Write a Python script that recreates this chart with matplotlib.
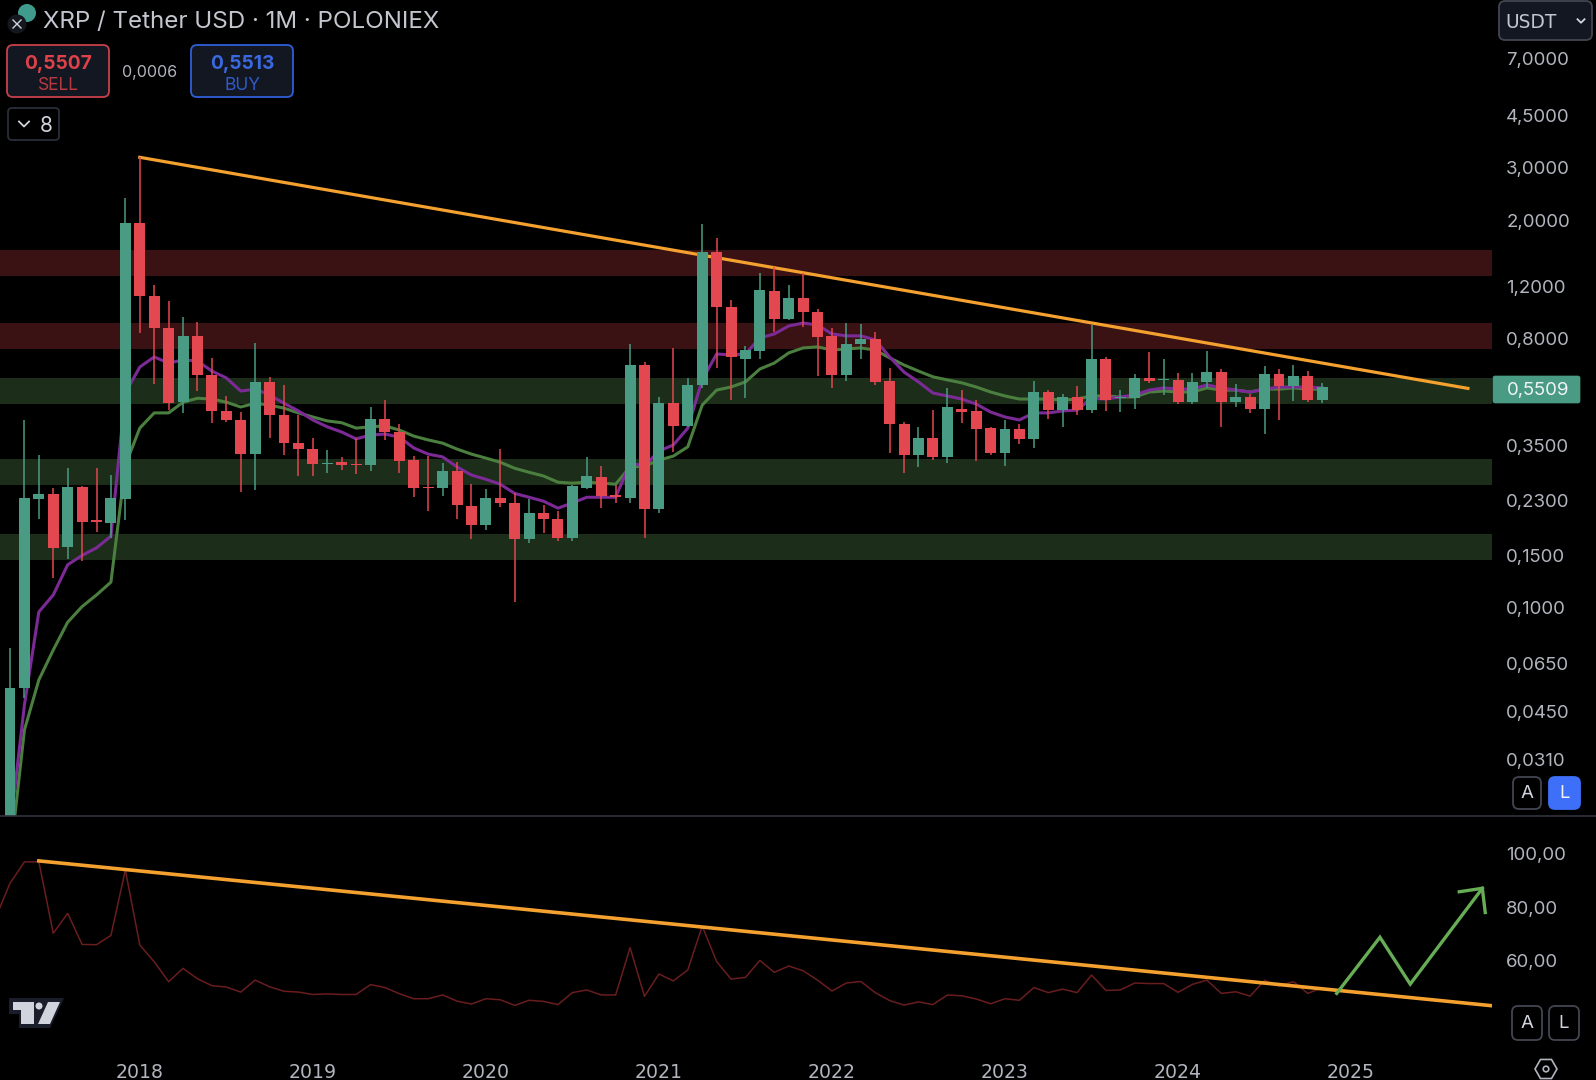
import numpy as np
import matplotlib
matplotlib.use("Agg")
import matplotlib.pyplot as plt
from matplotlib.patches import FancyBboxPatch, Circle, Polygon, RegularPolygon

W, H = 1596, 1080

# monthly candles, first one is Apr 2017
opens = [.015, .0538, .232, .241, .160, .254, .197, .193, .232, 1.96, 1.11, .87, .49, .818, .605, .458,
         .427, .328, .573, .444, .357, .341, .304, .309, .304, .301, .43, .389, .313, .255, .252, .288,
         .22, .19, .234, .225, .17, .208, .198, .172, .252, .275, .24, .234, .653, .215, .486, .408,
         .56, 1.56, 1.02, .685, .727, 1.16, .93, 1.095, .985, .818, .605, .769, .8, .578, .414, .326,
         .371, .321, .465, .458, .401, .331, .398, .369, .53, .461, .51, .461, .685, .505, .505, .59,
         .58, .582, .49, .573, .617, .49, .51, .465, .61, .555, .6, .498]
highs = [.0733, .427, .326, .252, .294, .256, .294, .279, 2.37, 3.25, 1.21, 1.07, .947, .91, .69, .514,
         .454, .775, .596, .56, .444, .372, .3385, .321, .372, .472, .498, .414, .324, .324, .306, .308,
         .26, .25, .341, .243, .232, .221, .212, .258, .321, .299, .258, .769, .666, .51, .745, .59,
         1.94, 1.74, 1.08, .757, 1.33, 1.39, 1.21, 1.33, 1.005, .87, .903, .896, .845, .64, .42, .405,
         .461, .547, .538, .5, .403, .427, .414, .578, .538, .522, .555, .89, .695, .538, .61, .72,
         .684, .615, .615, .727, .635, .564, .522, .648, .635, .653, .622, .57]
lows = [.012, .05, .199, .126, .146, .144, .179, .172, .197, .837, .564, .461, .451, .534, .418, .42,
        .244, .248, .372, .326, .277, .277, .283, .29, .281, .288, .366, .283, .235, .212, .237, .198,
        .17, .182, .218, .105, .165, .178, .167, .168, .25, .216, .225, .225, .172, .208, .333, .405,
        .545, .638, .5, .505, .685, .845, .925, .875, .6, .545, .578, .685, .56, .33, .283, .298,
        .313, .306, .418, .311, .326, .3, .355, .344, .43, .403, .444, .451, .458, .454, .465, .568,
        .518, .483, .483, .547, .404, .472, .451, .383, .427, .494, .49, .486]
closes = [.0538, .234, .241, .159, .254, .194, .194, .234, 1.96, 1.11, .87, .486, .818, .605, .458, .427,
          .328, .573, .444, .357, .341, .304, .306, .301, .302, .43, .389, .311, .252, .253, .288, .221,
          .19, .234, .225, .17, .208, .198, .172, .256, .277, .237, .236, .653, .215, .486, .408, .56,
          1.56, 1.02, .694, .733, 1.166, .93, 1.095, .985, .81, .605, .769, .8, .573, .414, .326, .371,
          .321, .472, .454, .398, .331, .398, .369, .53, .461, .51, .461, .685, .5, .51, .59, .578,
          .586, .49, .573, .617, .49, .51, .465, .61, .555, .6, .498, .5509]

ma_fast = [.018, .0472, .0969, .1105, .1395, .15, .159, .174, .526, .643, .695, .663, .679, .674, .623, .591,
           .534, .542, .518, .486, .458, .427, .405, .389, .369, .38, .383, .374, .344, .328, .321, .297,
           .279, .27, .26, .242, .235, .228, .216, .225, .235, .235, .235, .306, .299, .336, .352, .401,
           .582, .711, .706, .711, .805, .83, .883, .903, .89, .83, .818, .818, .793, .695, .618, .573,
           .526, .514, .502, .483, .454, .437, .427, .451, .451, .458, .461, .505, .502, .51, .518, .538,
           .547, .542, .542, .56, .547, .538, .53, .542, .551, .551, .551, .547]
ma_slow = [.0143, .0389, .0573, .0722, .0895, .101, .1105, .122, .301, .401, .451, .451, .49, .505, .502, .49,
           .472, .486, .479, .468, .451, .437, .424, .418, .401, .405, .408, .395, .377, .366, .357, .341,
           .328, .318, .308, .294, .285, .277, .264, .262, .264, .262, .26, .297, .299, .313, .323, .347,
           .479, .538, .551, .573, .633, .663, .717, .745, .751, .733, .739, .745, .733, .69, .653, .623,
           .596, .582, .569, .551, .53, .514, .502, .502, .502, .498, .502, .514, .514, .51, .51, .53,
           .534, .53, .53, .547, .538, .538, .53, .542, .542, .547, .542, .542]

# oscillator in the lower pane, starts one month before the first candle
rsi = [76, 89, 97, 97.1, 70.2, 77.7, 66, 65.9, 69.4, 94, 65.8, 59.5, 52, 57, 53.1, 50.5, 50, 48.1, 52.6, 50.1,
       48.4, 48.1, 47.2, 47.4, 47.2, 47.2, 50.9, 49.8, 47.5, 45.6, 45.6, 47, 44.7, 43.6, 45.6, 45.2, 43.1, 45,
       44.6, 43.4, 47.9, 48.9, 47, 47, 64.8, 46.5, 54.9, 52.3, 56.4, 72.9, 59.6, 53, 53.6, 60, 55.5, 57.9,
       56.1, 52.6, 48.5, 51.5, 52.1, 47.9, 44.9, 43.2, 44.4, 43.4, 47, 46.7, 45.5, 43.7, 45.6, 45, 49.8, 47.9,
       49.2, 47.9, 54.5, 48.7, 48.9, 51.5, 51.3, 51.3, 48, 51, 52.6, 47.6, 48.2, 46.6, 52.5, 50.4, 52, 47.6, 49.8]

red_zones = [(1.30, 1.588), (.739, .903)]
green_zones = [(.483, .591), (.258, .316), (.145, .177)]

price_trend_x = [9, 101.1]
price_trend_y = [3.25, .545]
rsi_trend_x = [2, 102.7]
rsi_trend_y = [97.4, 43]

arrow_x = [92, 95, 97.1, 102.1]
arrow_y = [47.6, 68.7, 51.1, 87.1]
arrow_head_x = [100.5, 102.1, 102.3]
arrow_head_y = [85.8, 87.1, 78]

price_ticks = [7, 4.5, 3, 2, 1.2, .8, .35, .23, .15, .1, .065, .045, .031]
price_labels = ["7,0000", "4,5000", "3,0000", "2,0000", "1,2000", "0,8000", "0,3500", "0,2300",
                "0,1500", "0,1000", "0,0650", "0,0450", "0,0310"]
rsi_ticks = [100, 80, 60]
rsi_labels = ["100,00", "80,00", "60,00"]
year_ticks = [9, 21, 33, 45, 57, 69, 81, 93]
year_labels = ["2018", "2019", "2020", "2021", "2022", "2023", "2024", "2025"]

GREEN = "#4a9b83"
RED = "#e3474f"
ORANGE = "#f4a12f"
TEXT = "#b2b5be"

plt.rcParams["font.family"] = "Inter"


def pane(x0, y0, x1, y1):
    # axes placed by pixel edges
    ax = fig.add_axes([x0 / W, 1 - y1 / H, (x1 - x0) / W, (y1 - y0) / H], facecolor="black")
    for s in ax.spines.values():
        s.set_visible(False)
    ax.set_xlim(-0.693, 102.77)
    return ax


def button(x0, y0, x1, y1, face, edge, r=6, lw=1.3):
    ui.add_patch(FancyBboxPatch((x0 + r, y0 + r), x1 - x0 - 2 * r, y1 - y0 - 2 * r,
                                boxstyle=f"round,pad={r},rounding_size={r}", fc=face, ec=edge, lw=lw))


def chevron(x, y, s, color):
    ui.plot([x - s, x, x + s], [y - s / 2, y + s / 2, y - s / 2], color=color, lw=1.3)


fig = plt.figure(figsize=(W / 100, H / 100), dpi=100, facecolor="black")

# price pane
ax = pane(0, 0, 1492, 816)
ax.set_yscale("log")
ax.set_ylim(.02002, 10.96)
for lo, hi in red_zones:
    ax.axhspan(lo, hi, color="#3a1214", lw=0, zorder=1)
for lo, hi in green_zones:
    ax.axhspan(lo, hi, color="#1c2e19", lw=0, zorder=1)

x = np.arange(len(closes))
ax.plot(x, ma_slow, color="#4b7f3f", lw=2.2, zorder=2)
ax.plot(x, ma_fast, color="#7b2a96", lw=2.2, zorder=2)
ax.plot(price_trend_x, price_trend_y, color=ORANGE, lw=2.3, zorder=3)

opens_a, closes_a = np.array(opens), np.array(closes)
colors = [GREEN if c >= o else RED for o, c in zip(opens, closes)]
ax.vlines(x, lows, highs, colors=colors, lw=1.1, zorder=4)
bottoms = np.minimum(opens_a, closes_a)
ax.bar(x, np.maximum(opens_a, closes_a) - bottoms, bottom=bottoms, width=.76, color=colors, lw=0, zorder=5)

ax.set_xticks([])
ax.set_yticks(price_ticks, price_labels)
ax.minorticks_off()
ax.yaxis.tick_right()
ax.tick_params(axis="y", length=0, pad=10.2, labelsize=13.4, labelcolor=TEXT)

# oscillator pane
ax2 = pane(0, 817, 1492, 1053)
ax2.set_ylim(25.2, 113.9)
ax2.plot(np.arange(-1, len(rsi) - 1), rsi, color="#6a1d1f", lw=1.1, zorder=2)
ax2.plot(rsi_trend_x, rsi_trend_y, color=ORANGE, lw=2.6, zorder=3)
ax2.plot(arrow_x, arrow_y, color="#66ad55", lw=2.4, zorder=4, solid_joinstyle="miter")
ax2.plot(arrow_head_x, arrow_head_y, color="#66ad55", lw=2.4, zorder=4, solid_joinstyle="miter")
ax2.set_xticks(year_ticks, year_labels)
ax2.set_yticks(rsi_ticks, rsi_labels)
ax2.yaxis.tick_right()
ax2.tick_params(axis="y", length=0, pad=10.2, labelsize=13.4, labelcolor=TEXT)
ax2.tick_params(axis="x", length=0, pad=7, labelsize=13.6, labelcolor=TEXT)
for t in ax2.get_xticklabels():
    t.set_fontfamily("DejaVu Sans")

# interface pieces on top, in pixel coordinates
ui = fig.add_axes([0, 0, 1, 1], zorder=10)
ui.set_xlim(0, W)
ui.set_ylim(H, 0)
ui.axis("off")

ui.plot([0, W], [816, 816], color="#30333d", lw=1.2)

ui.add_patch(Circle((27, 13), 9, fc="#3f9c8c", ec="none"))
ui.add_patch(Circle((17, 24), 9.5, fc="#15171e", ec="none"))
ui.plot([13, 21], [20, 28], color="#d1d4dc", lw=1)
ui.plot([13, 21], [28, 20], color="#d1d4dc", lw=1)
ui.text(43, 22, "XRP / Tether USD · 1M · POLONIEX", color="#c3c6ce", fontsize=17.4, va="center")

button(7, 45, 109, 97, "#131722", "#c9404a")
ui.text(58, 64, "0,5507", color="#dd4149", fontsize=13.8, fontweight="bold", ha="center", va="center")
ui.text(58, 85, "SELL", color="#b83a40", fontsize=12.5, ha="center", va="center")
ui.text(150, 72, "0,0006", color=TEXT, fontsize=11.5, ha="center", va="center")
button(191, 45, 293, 97, "#131722", "#2f5fd8")
ui.text(242, 64, "0,5513", color="#3a68e0", fontsize=13.8, fontweight="bold", ha="center", va="center")
ui.text(242, 85, "BUY", color="#2f5ac8", fontsize=12.5, ha="center", va="center")

button(8, 108, 59, 140, "black", "#2a2e39", r=4)
chevron(24, 124, 5, "#d1d4dc")
ui.text(46, 126, "8", color="#d1d4dc", fontsize=15, ha="center", va="center")

button(1499, 1, 1592, 40, "#131722", "#434651")
ui.text(1505, 22, "USDT", color="#c3c6ce", fontsize=13.4, family="DejaVu Sans", va="center")
chevron(1581, 21, 3.5, "#d1d4dc")

# last price tag
button(1493, 376, 1580, 403, GREEN, GREEN, r=2, lw=0.5)
ui.text(1507, 390.5, "0,5509", color="#f0f3fa", fontsize=13.4, va="center")

button(1513, 777, 1541, 809, "black", "#434651")
ui.text(1527, 793, "A", color="#d1d4dc", fontsize=13.5, ha="center", va="center")
button(1549, 777, 1580, 809, "#3d6ff8", "#3d6ff8")
ui.text(1564.5, 793, "L", color="#f0f3fa", fontsize=13.5, ha="center", va="center")
button(1512, 1006, 1542, 1040, "black", "#434651")
ui.text(1527, 1023, "A", color="#d1d4dc", fontsize=13.5, ha="center", va="center")
button(1549, 1006, 1579, 1040, "black", "#434651")
ui.text(1564, 1023, "L", color="#d1d4dc", fontsize=13.5, ha="center", va="center")

# settings hexagon
ui.add_patch(RegularPolygon((1546, 1069), 6, radius=11, orientation=np.pi / 2, fc="none", ec="#b2b5be", lw=1.2))
ui.add_patch(Circle((1546, 1069), 2.8, fc="none", ec="#b2b5be", lw=1.2))

# TradingView mark
logo = "#d1d4dc"
ui.add_patch(Polygon([(9, 998), (64, 998), (50, 1028), (19, 1028), (19, 1014), (9, 1014)], fc="#1a1e2b", ec="none"))
ui.add_patch(Polygon([(13, 1002), (34, 1002), (34, 1024), (21, 1024), (21, 1010), (13, 1010)], fc=logo, ec="none"))
ui.add_patch(Polygon([(48, 1002), (60, 1002), (50, 1024), (38, 1024)], fc=logo, ec="none"))
ui.add_patch(Circle((39, 1006), 3.5, fc=logo, ec="none"))

fig.savefig("out.png", dpi=100, facecolor="black")
